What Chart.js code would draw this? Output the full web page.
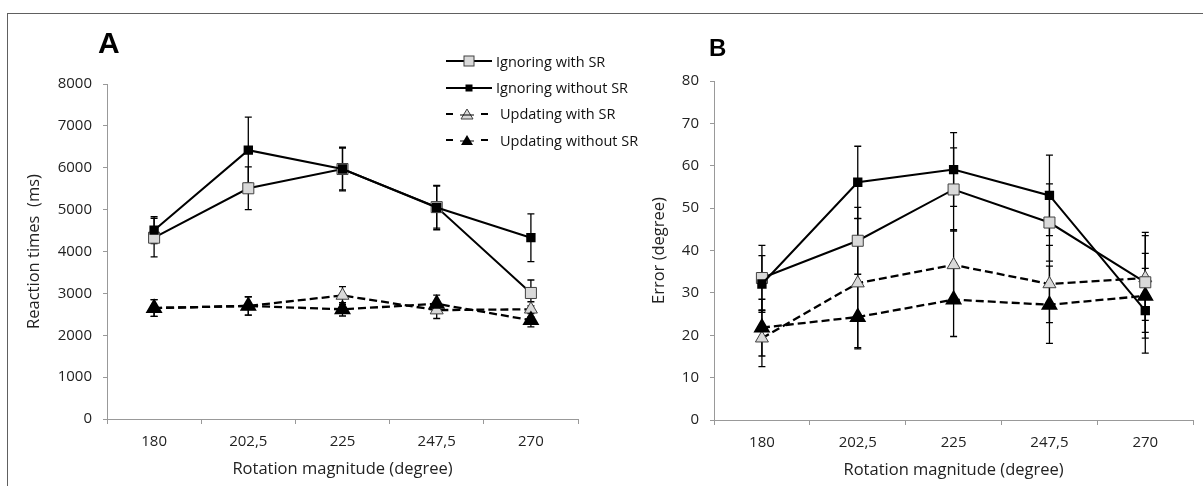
<!DOCTYPE html>
<html>
<head>
<meta charset="utf-8">
<script src="https://cdn.jsdelivr.net/npm/chart.js@4/dist/chart.umd.min.js"></script>
<style>
  body { margin: 0; background: #fff; }
  #wrap { position: relative; width: 1203px; height: 486px; overflow: hidden; font-family: "Open Sans", sans-serif; }
  #frame { position: absolute; left: 7px; top: 13px; width: 1300px; height: 600px; border-top: 1px solid #606060; border-left: 1px solid #606060; }
  #boxA { position: absolute; left: 0; top: 0; width: 610px; height: 486px; }
  #boxB { position: absolute; left: 615px; top: 0; width: 588px; height: 486px; }
  .letter { position: absolute; font-family: "Liberation Sans", Arial, sans-serif; font-weight: bold; color: #000; line-height: 1; }
  #legend { position: absolute; left: 446px; top: 48px; font-size: 14.5px; color: #111; }
  #legend div { height: 26.4px; display: flex; align-items: center; }
  #legend svg { margin-right: 4px; }
</style>
</head>
<body>
<div id="wrap">
  <div id="frame"></div>
  <div id="boxA"><canvas id="chartA"></canvas></div>
  <div id="boxB"><canvas id="chartB"></canvas></div>
  <div class="letter" style="left:98px; top:28px; font-size:30px;">A</div>
  <div class="letter" style="left:709px; top:36px; font-size:24px;">B</div>
  <div id="legend">
    <div><svg width="46" height="14"><line x1="0" y1="7" x2="46" y2="7" stroke="#000" stroke-width="1.8"/><rect x="18" y="2" width="10" height="10" fill="#d9d9d9" stroke="#404040" stroke-width="1"/></svg>Ignoring with SR</div>
    <div><svg width="46" height="14"><line x1="0" y1="7" x2="46" y2="7" stroke="#000" stroke-width="1.8"/><rect x="19.5" y="3.5" width="7" height="7" fill="#000"/></svg>Ignoring without SR</div>
    <div><svg width="50" height="14"><line x1="0" y1="7" x2="7" y2="7" stroke="#000" stroke-width="2"/><line x1="35" y1="7" x2="42" y2="7" stroke="#000" stroke-width="2"/><polygon points="21,2 27,12 15,12" fill="#d9d9d9" stroke="#404040" stroke-width="1"/><line x1="14" y1="8" x2="28" y2="8" stroke="#000" stroke-width="1"/></svg>Updating with SR</div>
    <div><svg width="50" height="14"><line x1="0" y1="7" x2="7" y2="7" stroke="#000" stroke-width="2"/><line x1="35" y1="7" x2="42" y2="7" stroke="#000" stroke-width="2"/><polygon points="21,2 27,12 15,12" fill="#000"/><line x1="14" y1="8" x2="28" y2="8" stroke="#000" stroke-width="1"/></svg>Updating without SR</div>
  </div>
</div>
<script>
// x categories (rotation magnitude, degree)
const categories = ['180', '202,5', '225', '247,5', '270'];

// panel A: reaction times (ms)
const rtIgnWith = [4330, 5510, 5970, 5060, 3010];
const rtIgnWithErr = [460, 510, 520, 500, 310];
const rtIgnWithout = [4510, 6420, 5970, 5050, 4330];
const rtIgnWithoutErr = [320, 790, 500, 530, 570];
const rtUpdWith = [2650, 2700, 2950, 2600, 2620];
const rtUpdWithErr = [200, 220, 210, 200, 180];
const rtUpdWithout = [2650, 2700, 2620, 2750, 2360];
const rtUpdWithoutErr = [200, 220, 160, 210, 160];

// panel B: error (degree)
const erIgnWith = [33.5, 42.3, 54.4, 46.6, 32.5];
const erIgnWithErr = [7.7, 7.9, 9.8, 9.1, 11.8];
const erIgnWithout = [32.1, 56.1, 59.1, 53.0, 25.8];
const erIgnWithoutErr = [6.7, 8.5, 8.7, 9.5, 10.0];
const erUpdWith = [19.3, 32.3, 36.6, 32.1, 33.5];
const erUpdWithErr = [6.7, 15.2, 8.3, 9.1, 10.0];
const erUpdWithout = [21.8, 24.3, 28.4, 27.2, 29.3];
const erUpdWithoutErr = [6.7, 7.5, 8.7, 9.1, 10.0];

const seriesNames = ['Ignoring with SR', 'Ignoring without SR', 'Updating with SR', 'Updating without SR'];

Chart.defaults.font.family = '"Open Sans", sans-serif';
Chart.defaults.color = '#222';

// error bars, drawn under the markers
const errorBars = {
  id: 'errorBars',
  beforeDatasetsDraw(chart) {
    const ctx = chart.ctx;
    const ys = chart.scales.y;
    ctx.save();
    ctx.strokeStyle = '#000';
    ctx.lineWidth = 1.3;
    chart.data.datasets.forEach((ds, i) => {
      const meta = chart.getDatasetMeta(i);
      meta.data.forEach((pt, j) => {
        const v = ds.data[j], e = ds.errors[j];
        const t = ys.getPixelForValue(v + e), b = ys.getPixelForValue(v - e);
        ctx.beginPath();
        ctx.moveTo(pt.x, t); ctx.lineTo(pt.x, b);
        ctx.moveTo(pt.x - 3.5, t); ctx.lineTo(pt.x + 3.5, t);
        ctx.moveTo(pt.x - 3.5, b); ctx.lineTo(pt.x + 3.5, b);
        ctx.stroke();
      });
    });
    ctx.restore();
  }
};

function makeSets(a, ae, b, be, c, ce, d, de) {
  return [
    { label: seriesNames[1], data: b, errors: be, borderColor: '#000', borderWidth: 2,
      pointStyle: 'rect', pointRadius: 5.2, backgroundColor: '#000', pointBorderColor: '#000', order: 1 },
    { label: seriesNames[0], data: a, errors: ae, borderColor: '#000', borderWidth: 2,
      pointStyle: 'rect', pointRadius: 7.8, backgroundColor: '#d9d9d9', pointBorderColor: '#404040', pointBorderWidth: 1, order: 2 },
    { label: seriesNames[3], data: d, errors: de, borderColor: '#000', borderWidth: 2.3, borderDash: [8, 4],
      pointStyle: 'triangle', pointRadius: 7.5, backgroundColor: '#000', pointBorderColor: '#000', order: 3 },
    { label: seriesNames[2], data: c, errors: ce, borderColor: '#000', borderWidth: 2.3, borderDash: [8, 4],
      pointStyle: 'triangle', pointRadius: 7.5, backgroundColor: '#d9d9d9', pointBorderColor: '#404040', pointBorderWidth: 1, order: 4 }
  ];
}

function makeOptions(pad, yWidth, yMax, yStep, yTitle) {
  return {
    responsive: false,
    maintainAspectRatio: false,
    animation: false,
    layout: { padding: pad },
    plugins: { legend: { display: false }, tooltip: { enabled: false } },
    elements: { line: { tension: 0 } },
    scales: {
      x: {
        offset: true,
        grid: { offset: true, drawOnChartArea: false, color: '#999', tickLength: 5 },
        border: { color: '#999' },
        ticks: { font: { size: 15 }, padding: 9 },
        title: { display: true, text: 'Rotation magnitude (degree)', font: { size: 16.5 }, padding: { top: 3 } },
        afterFit: s => { s.height = 64; }
      },
      y: {
        min: 0, max: yMax,
        grid: { drawOnChartArea: false, color: '#999', tickLength: 4 },
        border: { color: '#999' },
        ticks: { stepSize: yStep, font: { size: 15 }, padding: 11, callback: v => String(v) },
        title: { display: true, text: yTitle, font: { size: 16.5 }, padding: 0 },
        afterFit: s => { s.width = yWidth; }
      }
    }
  };
}

function setup(id, w, h) {
  const cv = document.getElementById(id);
  cv.width = w; cv.height = h;
  cv.style.width = w + 'px'; cv.style.height = h + 'px';
  return cv;
}

new Chart(setup('chartA', 610, 486), {
  type: 'line',
  data: { labels: categories, datasets: makeSets(rtIgnWith, rtIgnWithErr, rtIgnWithout, rtIgnWithoutErr, rtUpdWith, rtUpdWithErr, rtUpdWithout, rtUpdWithoutErr) },
  options: makeOptions({ left: 24, top: 84, right: 32, bottom: 3 }, 83, 8000, 1000, 'Reaction times  (ms)'),
  plugins: [errorBars]
});

new Chart(setup('chartB', 588, 486), {
  type: 'line',
  data: { labels: categories, datasets: makeSets(erIgnWith, erIgnWithErr, erIgnWithout, erIgnWithoutErr, erUpdWith, erUpdWithErr, erUpdWithout, erUpdWithoutErr) },
  options: makeOptions({ left: 34, top: 81, right: 4, bottom: 2 }, 65, 80, 10, 'Error (degree)'),
  plugins: [errorBars]
});
</script>
</body>
</html>
